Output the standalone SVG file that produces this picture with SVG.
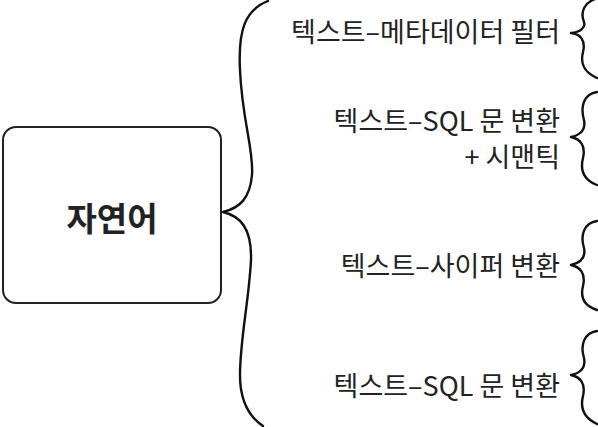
<svg xmlns="http://www.w3.org/2000/svg" width="598" height="427" viewBox="0 0 598 427">
<style>
.t{font-family:"Noto Sans CJK KR","Noto Sans",sans-serif;font-size:27px;fill:#222;text-anchor:end}
.b{fill:none;stroke:#111;stroke-width:2.4;stroke-linecap:round;stroke-linejoin:round}
</style>
<rect width="598" height="427" fill="#fff"/>
<g id="natural-language">
<rect x="3" y="127" width="218" height="176" rx="13" fill="#fff" stroke="#222" stroke-width="2"/>
<text x="112" y="231" style="font-family:'Noto Sans CJK KR','Noto Sans',sans-serif;font-size:33px;font-weight:700;fill:#222;text-anchor:middle">자연어</text>
</g>
<g id="connectors">
<path class="b" d="M268,1 C245,10 238,30 240,70 C242,120 254,150 252,175 C250,198 240,208 223,212 C240,216 252,228 251,260 C249,300 240,340 240,375 C240,400 248,416 263,426"/>
<path class="b" d="M598,-2 C584,2 580,12 584,22 C586,28 580,32 571,33 C580,34 586,40 583,52 C580,64 584,72 597,78"/>
<path class="b" d="M597,92 C584,94 580,106 584,120 C586,130 580,135 571,137 C580,139 586,145 583,158 C580,170 584,180 597,185"/>
<path class="b" d="M597,221 C584,223 580,235 584,248 C586,258 580,263 571,265 C580,267 586,273 583,286 C580,298 584,306 597,310"/>
<path class="b" d="M597,331 C584,333 580,345 584,358 C586,368 580,373 571,375 C580,377 586,383 583,396 C580,408 584,418 597,424"/>
</g>
<g id="text-metadata-filter"><text class="t" x="560" y="42">텍스트–메타데이터 필터</text></g>
<g id="text-sql-semantic"><text class="t" x="560" y="131">텍스트–SQL 문 변환</text><text class="t" x="560" y="167">+ 시맨틱</text></g>
<g id="text-cypher"><text class="t" x="560" y="276">텍스트–사이퍼 변환</text></g>
<g id="text-sql"><text class="t" x="560" y="396">텍스트–SQL 문 변환</text></g>
</svg>
